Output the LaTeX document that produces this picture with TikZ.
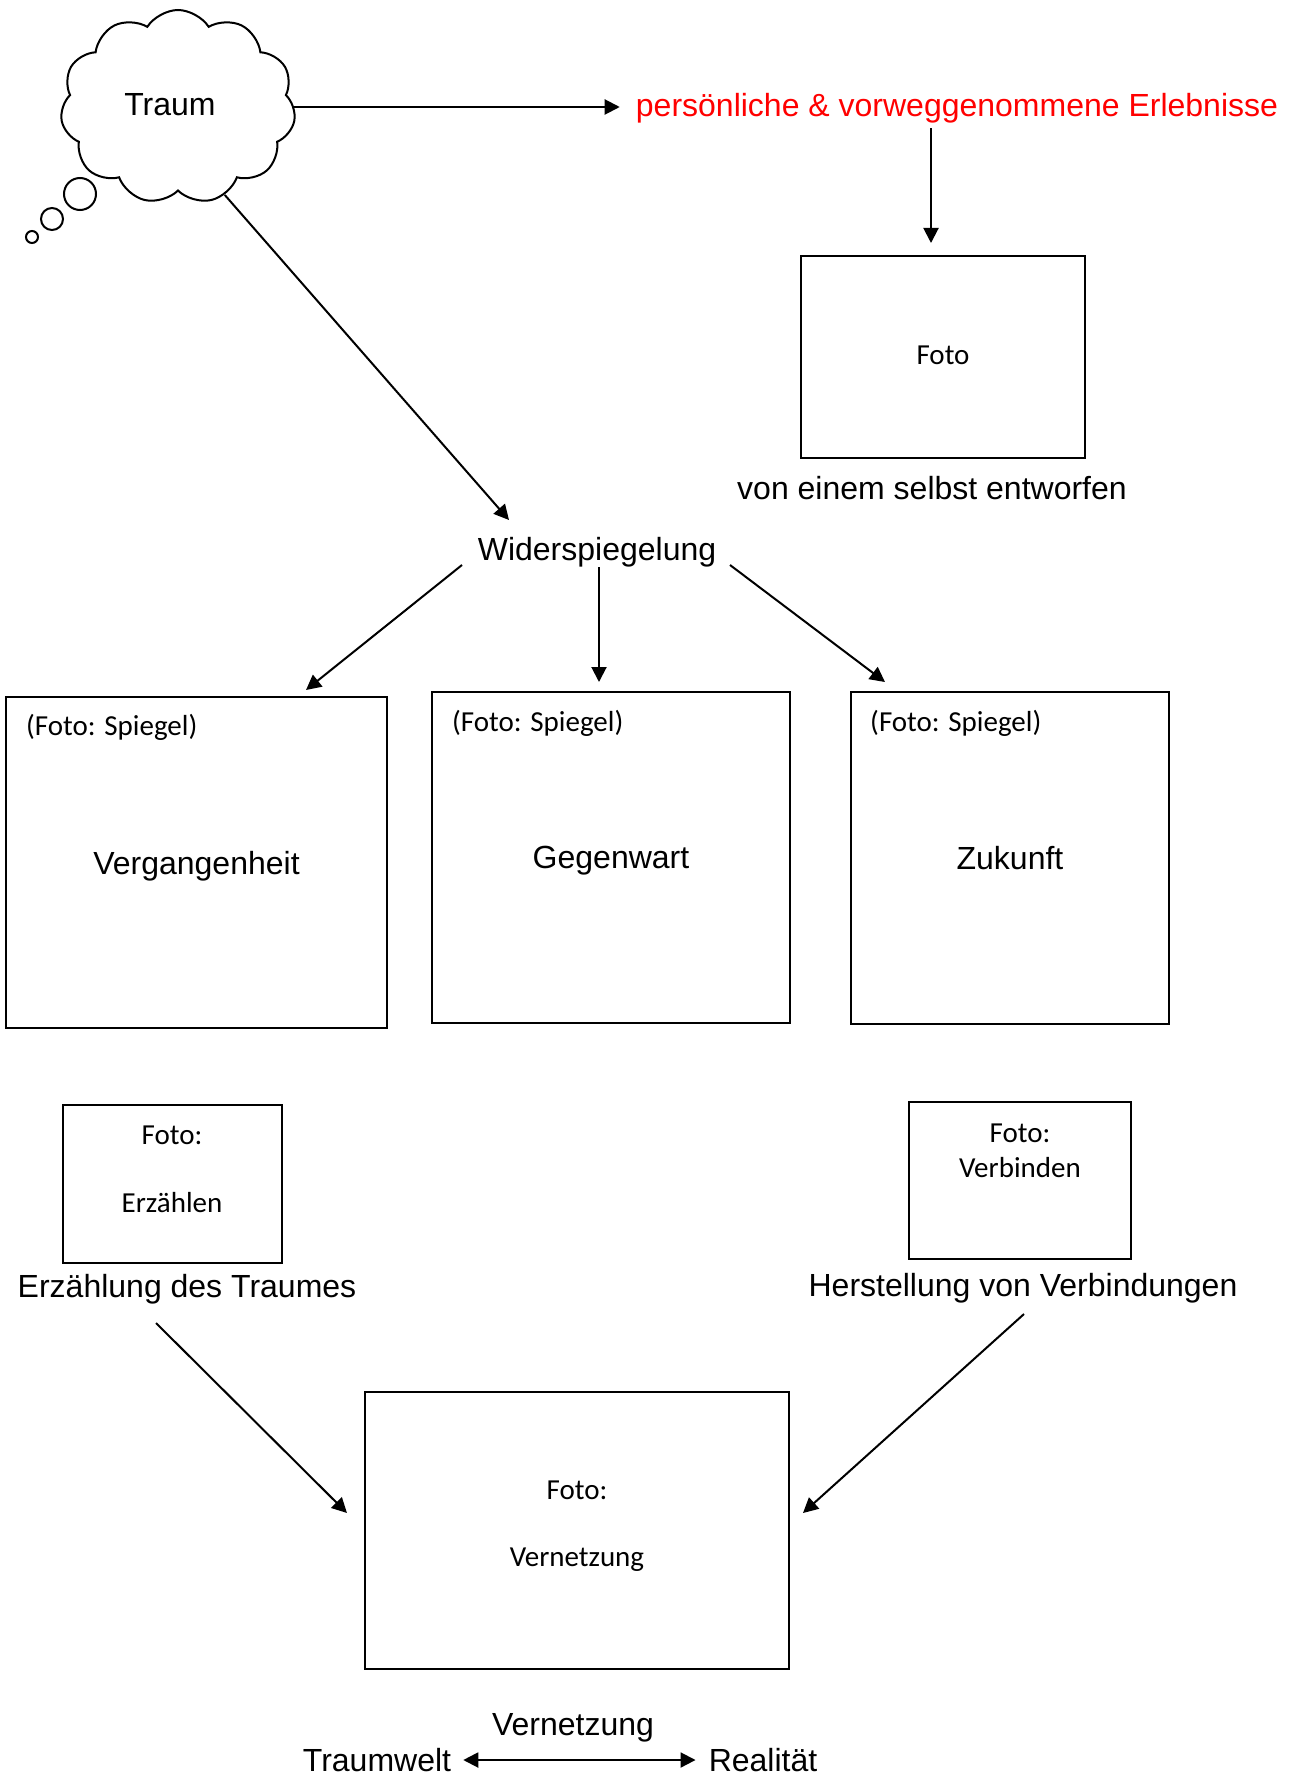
\documentclass[tikz,border=0pt]{standalone}
\usepackage{fontspec}
\setmainfont{Liberation Sans}
\newfontfamily\calib{Carlito}
\usetikzlibrary{arrows.meta,shapes.symbols,calc}
\definecolor{redtxt}{RGB}{255,0,0}
\tikzset{
  big/.style={font=\fontsize{32}{38}\selectfont, inner sep=0pt},
  small/.style={font=\calib\fontsize{29}{35}\selectfont, inner sep=0pt},
  box/.style={draw, line width=2pt, inner sep=0pt},
  arr/.style={line width=2pt, -{Triangle[length=15pt,width=15pt]}},
  darr/.style={line width=2pt, {Triangle[length=15pt,width=15pt]}-{Triangle[length=15pt,width=15pt]}}
}
\begin{document}
\begin{tikzpicture}[x=1pt,y=-1pt]
\useasboundingbox (0,0) rectangle (1295,1776);
% cloud
\node[cloud, draw, line width=2pt, cloud puffs=11, cloud puff arc=115, aspect=1.2,
      minimum width=235pt, minimum height=194pt, inner sep=0pt] (traum) at (178,107) {};
\node[big] (traumtxt) at (170,105) {Traum};
\node[circle, draw, line width=2pt, minimum size=32pt, inner sep=0pt] (b1) at (80,194) {};
\node[circle, draw, line width=2pt, minimum size=22pt, inner sep=0pt] (b2) at (52,219) {};
\node[circle, draw, line width=2pt, minimum size=12pt, inner sep=0pt] (b3) at (32,237) {};
% red text
\node[big, text=redtxt] (red) at (957,108.5) {persönliche \& vorweggenommene Erlebnisse};
\node[box, minimum width=284pt, minimum height=202pt] (foto) at (943,357) {};
\node[small] (fototxt) at (943,355.5) {Foto};
\node[big] (selbst) at (932,488) {von einem selbst entworfen};
% Widerspiegelung
\node[big] (wider) at (597,552) {Widerspiegelung};
\node[box, minimum width=381pt, minimum height=331pt] (verg) at (196.5,862.5) {};
\node[big] (vergtxt) at ($(verg)+(0,3.5)$) {Vergangenheit};
\node[box, minimum width=358pt, minimum height=331pt] (gegen) at (611,857.5) {};
\node[big] (gegentxt) at ($(gegen)+(0,3.5)$) {Gegenwart};
\node[box, minimum width=318pt, minimum height=332pt, big] (zuk) at (1010,858) {Zukunft};
\node[small, anchor=west] (sv) at ($(verg.north west)+(21,31.5)$) {(Foto: Spiegel)};
\node[small, anchor=west] (sg) at ($(gegen.north west)+(21,32.5)$) {(Foto: Spiegel)};
\node[small, anchor=west] (sz) at ($(zuk.north west)+(20,32.5)$) {(Foto: Spiegel)};
% small boxes
\node[box, minimum width=219pt, minimum height=158pt] (erzbox) at (172,1184) {};
\node[small] (erzf) at (172,1135) {Foto:};
\node[small] (erzl) at (172,1203) {Erzählen};
\node[big] (erztext) at (187,1289) {Erzählung des Traumes};
\node[box, minimum width=222pt, minimum height=157pt] (verbox) at (1020,1180.5) {};
\node[small] (verf) at (1020,1133) {Foto:};
\node[small] (verl) at (1020,1168) {Verbinden};
\node[big] (herst) at (1023,1288) {Herstellung von Verbindungen};
% bottom box
\node[box, minimum width=424pt, minimum height=277pt] (bottom) at (577,1530.5) {};
\node[small] (botf) at (577,1490) {Foto:};
\node[small] (botl) at (577,1560) {Vernetzung};
% bottom line
\node[big] (vern) at (573,1728) {Vernetzung};
\node[big] (tw) at (377,1760) {Traumwelt};
\node[big] (real) at (763,1760) {Realität};
% connectors
\draw[arr] (traum.east) -- ($(traum.east -| red.west)+(-16,0)$);
\draw[arr] ($(red)+(-26,20)$) -- ($(foto.north)+(-12,-12)$);
\draw[arr] (traum.-62) -- ($(wider)+(-88,-32)$);
\draw[arr] ($(wider)+(-135,13)$) -- ($(verg.north)+(109.5,-6)$);
\draw[arr] ($(wider)+(2,15)$) -- ($(gegen.north)+(-12,-9)$);
\draw[arr] ($(wider)+(133,13)$) -- ($(zuk.north west)+(35,-9)$);
\draw[arr] ($(erztext)+(-31,34)$) -- ($(bottom.west)+(-17,-17.5)$);
\draw[arr] ($(herst)+(1,26)$) -- ($(bottom.east)+(13,-17.5)$);
\draw[darr] ($(tw.east)+(12,0)$) -- ($(real.west)+(-13,0)$);
\end{tikzpicture}
\end{document}
